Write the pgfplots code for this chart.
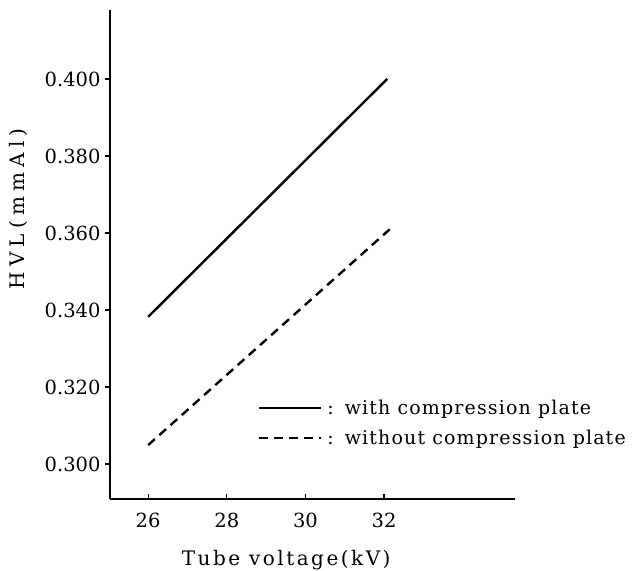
\documentclass[border=0pt]{standalone}
\usepackage{fontspec}
\setmainfont{DejaVu Serif}
\newfontfamily\xlabfont{DejaVu Serif}[LetterSpace=12.5]
\newfontfamily\ylabfont{DejaVu Serif}[LetterSpace=26]
\newfontfamily\legfont{DejaVu Serif}[LetterSpace=6]
\usepackage{pgfplots}
\pgfplotsset{compat=1.18}
\begin{document}
\begin{tikzpicture}
\begin{axis}[
  scale only axis,
  width=405bp, height=489bp,
  xmin=25.03, xmax=35.33,
  ymin=0.2909, ymax=0.4179,
  axis x line*=bottom, axis y line*=left,
  axis line style={line width=1.6bp},
  xtick={26,28,30,32}, xticklabels={26,28,30,32},
  ytick={0.30,0.32,0.34,0.36,0.38,0.40},
  yticklabels={0.300,0.320,0.340,0.360,0.380,0.400},
  xtick align=inside, ytick align=outside,
  major tick length=5bp,
  tick style={line width=1.2bp, black},
  ticklabel style={font=\fontsize{19.5bp}{22bp}\selectfont},
  xticklabel style={yshift=-11bp},
  yticklabel style={xshift=-1bp},
  xlabel={\xlabfont Tube voltage(kV)},
  ylabel={\ylabfont HVL(mmAl)},
  label style={font=\fontsize{20bp}{23bp}\selectfont},
  xlabel style={at={(rel axis cs:0.435,0)}, anchor=center, yshift=-61bp},
  ylabel style={at={(rel axis cs:0,0.593)}, anchor=center, yshift=92bp},
  legend style={draw=none, fill=none, at={(rel axis cs:0.365,0.207)}, anchor=north west,
    font=\legfont\fontsize{19bp}{22bp}\selectfont, row sep=10bp, inner sep=0pt},
  legend cell align=left,
  legend image code/.code={\draw[#1] (0bp,0bp) -- (62bp,0bp);},
  clip=false,
]
\addplot[black, line width=2.4bp] coordinates {(26.0,0.3382) (32.08,0.4000)};
\addlegendentry{\hspace{3bp}:\hspace{11bp}with compression plate}
\addplot[black, line width=2.4bp, dash pattern=on 9bp off 6bp] coordinates {(26.0,0.3049) (32.15,0.3610)};
\addlegendentry{\hspace{3bp}:\hspace{11bp}without compression plate}
\end{axis}
\pgfresetboundingbox
\path[use as bounding box] (current axis.south west) ++(-110bp,-72bp) rectangle ([shift={(121bp,10bp)}]current axis.north east);
\end{tikzpicture}
\end{document}
